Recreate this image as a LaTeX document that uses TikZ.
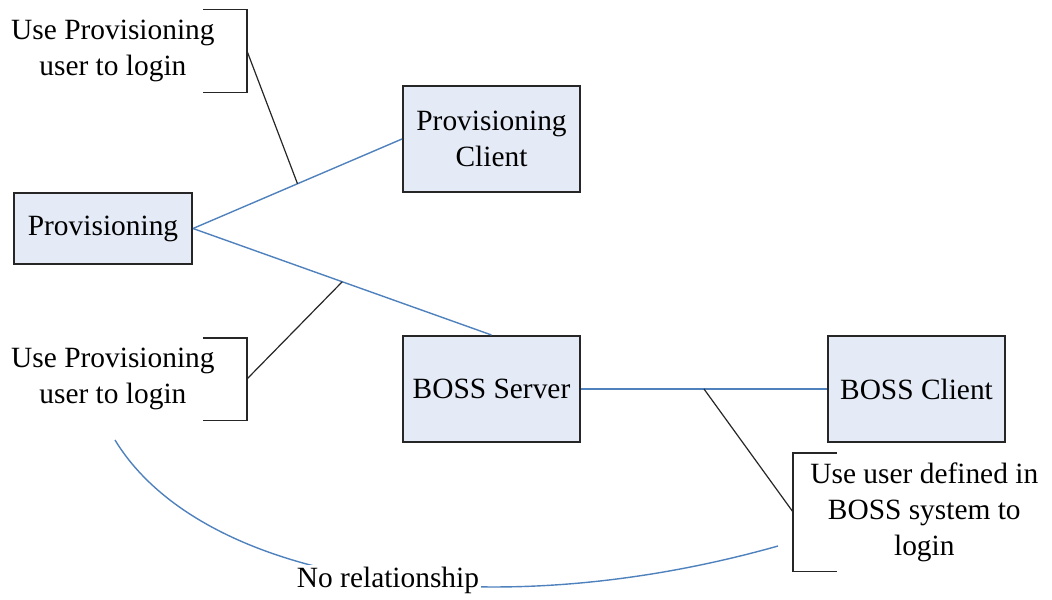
\documentclass[tikz,border=0pt]{standalone}
\usepackage{fontspec}
\setmainfont{Liberation Serif}
\usetikzlibrary{calc,positioning}
\definecolor{boxfill}{RGB}{228,234,246}
\definecolor{linkblue}{RGB}{79,129,189}
\tikzset{%
	unit/.style    = {draw=black!85, line width=1pt, fill=boxfill, rectangle, align=center, minimum width=88.5pt, minimum height=53pt},
	link/.style    = {draw=linkblue, line width=0.7pt},
	leader/.style  = {draw=black!85, line width=0.6pt},
	bracket/.style = {draw=black!85, line width=0.9pt},
	note/.style    = {align=center, minimum height=41pt}, % Callout text
}
\begin{document}
\begin{tikzpicture}[x=0.5pt,y=-0.5pt,font=\fontsize{14.7}{18}\selectfont]
	\useasboundingbox (0,0) rectangle (1052,599);
	\node[unit,minimum width=89pt,minimum height=35.5pt] (prov) at (103,228.5) {Provisioning};
	\node[unit] (pc) at (491.5,139) {Provisioning\\Client};
	\node[unit,below=71pt of pc] (bs) {BOSS Server};
	\node[unit,right=123pt of bs] (bc) {BOSS Client};
	
	\node[note,anchor=east,inner xsep=16pt] (n1) at (247,51) {Use Provisioning\\user to login};
	\node[note,anchor=east,inner xsep=16pt] (n2) at (247,379) {Use Provisioning\\user to login};
	\node[note,anchor=west,inner xsep=8.5pt,minimum height=59pt] (n3) at (793,512) {Use user defined in\\BOSS system to\\login};
	\coordinate (c1) at (115,440);
	\coordinate (c2) at (778,546);
	
	\draw[link] (prov.east) -- coordinate[midway] (m1) (pc.west);
	\draw[link] (prov.east) -- coordinate[midway] (m2) (bs.north);
	\draw[link] (bs) -- coordinate[midway] (m3) (bc);
	\draw[link] (c1) .. controls (200,580) and (480,630) .. (c2);
	\node[fill=white,inner sep=1pt] (norel) at (388,580) {No relationship};
	
	\draw[leader] (n1.east) -- (m1);
	\draw[leader] (n2.east) -- (m2);
	\draw[leader] (n3.west) -- (m3);
	\draw[bracket] ([xshift=-22pt]n1.north east) -- (n1.north east) -- (n1.south east) -- ([xshift=-22pt]n1.south east);
	\draw[bracket] ([xshift=-22pt]n2.north east) -- (n2.north east) -- (n2.south east) -- ([xshift=-22pt]n2.south east);
	\draw[bracket] ([xshift=22pt]n3.north west) -- (n3.north west) -- (n3.south west) -- ([xshift=22pt]n3.south west);
\end{tikzpicture}
\end{document}
